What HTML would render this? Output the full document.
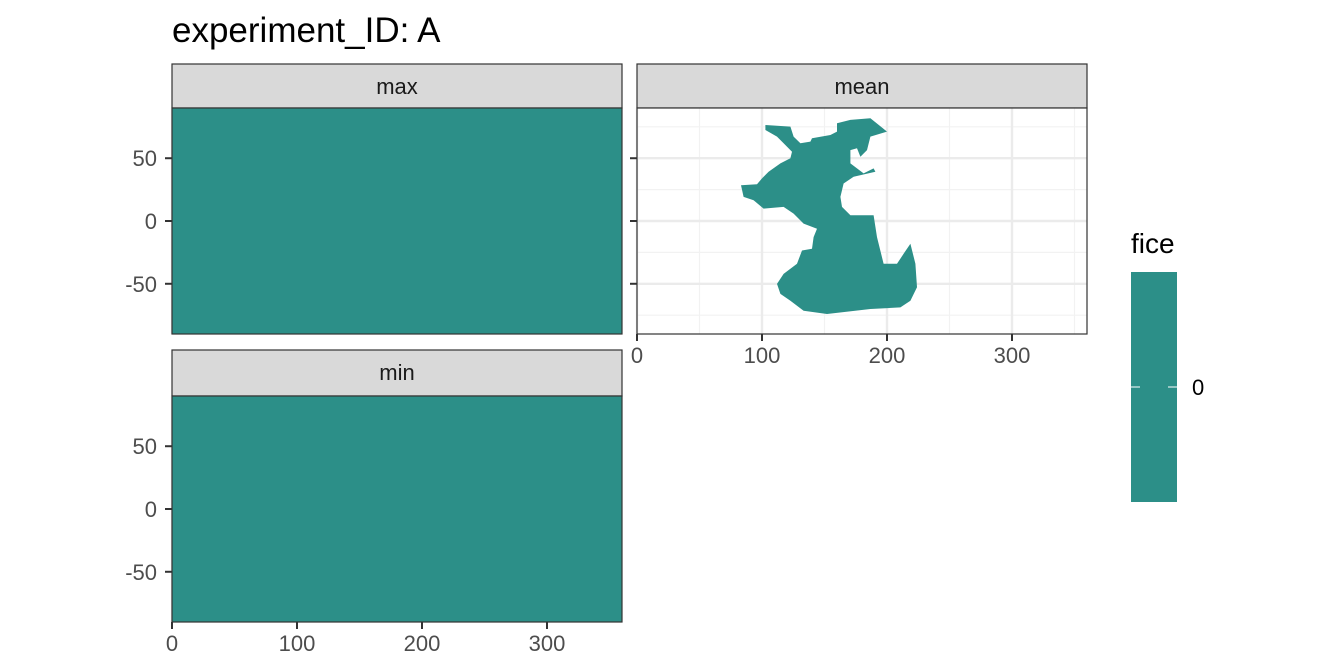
<!DOCTYPE html>
<html><head><meta charset="utf-8"><style>
body{margin:0;background:#fff;}
svg{display:block;font-family:"Liberation Sans",sans-serif;}
</style></head><body>
<svg id="c" width="1344" height="672" viewBox="0 0 1344 672">
<text x="172" y="42" font-size="35" fill="#000">experiment_ID: A</text>
</svg>
<script>
// data
const facets = ["max","mean","min"];
const xTicks = [0,100,200,300];
const yTicks = [50,0,-50];
const xMinor = [50,150,250,350];
const yMinor = [75,25,-25,-75];
const legendTicks = [0];
const oceanLon = [102.7,122.7,125.3,130.7,138.7,140,154.7,160,160,170.7,186.7,200,186.7,184,178.7,176,170.7,170.7,181.3,189.3,190.7,173.3,165.3,162.7,164,170.7,189.3,192,197.3,208,213.3,218.7,222.7,224,218.7,210.7,186.7,152,133.3,122.7,114.7,112,117.3,128,132,140,141.3,144,133.3,125.3,117.3,101.3,93.3,85.3,83.2,96,100,105.3,114.7,122.7,124,117.3,112,102.7];
const oceanLat = [76.5,75.2,67.2,61.9,63.2,65.9,68.5,71.2,77.9,80.5,81.9,71.2,67.2,56.5,51.2,57.9,56.5,45.9,37.9,41.9,39.2,35.2,29.9,19.2,11.2,4.5,4.5,-12.8,-34.1,-34.1,-26.1,-18.1,-34.1,-52.8,-63.5,-68.8,-70.1,-74.1,-71.5,-63.5,-58.1,-50.1,-42.1,-34.1,-23.5,-22.1,-12.8,-6.1,-2.1,5.9,11.2,9.9,16.5,19.2,28.5,29.3,33.9,39.2,45.9,49.9,55.2,61.9,67.2,72.5];

const NS="http://www.w3.org/2000/svg";
const svg=document.getElementById('c');
const FILL="#2c8f88";
function mk(t,a,p){const e=document.createElementNS(NS,t);for(const k in a)e.setAttribute(k,a[k]);(p||svg).appendChild(e);return e;}
const panels={max:{x:172,sy:64,py:108,xAxis:false},mean:{x:637,sy:64,py:108,xAxis:true},min:{x:172,sy:350,py:396,xAxis:true}};
const PW=450,PH=226;
function sx(P,lon){return P.x+lon/360*PW;}
function sy(P,lat){return P.py+(90-lat)/180*PH;}
facets.forEach(f=>{
  const P=panels[f];
  const g=mk('g',{});
  
  
  const strip=mk('rect',{x:P.x,y:P.sy,width:PW,height:P.py-P.sy,fill:"#d9d9d9",stroke:"#333","stroke-width":1.2},g);
  
  
  const st=mk('text',{x:P.x+PW/2,y:P.sy+30,"text-anchor":"middle","font-size":22,fill:"#1a1a1a"},g);
  st.textContent=f;
  
  
  mk('rect',{x:P.x,y:P.py,width:PW,height:PH,fill:"#fff"},g);
  xMinor.forEach(v=>mk('line',{x1:sx(P,v),x2:sx(P,v),y1:P.py,y2:P.py+PH,stroke:"#f2f2f2","stroke-width":1.2},g));
  yMinor.forEach(v=>mk('line',{x1:P.x,x2:P.x+PW,y1:sy(P,v),y2:sy(P,v),stroke:"#f2f2f2","stroke-width":1.2},g));
  xTicks.forEach(v=>mk('line',{x1:sx(P,v),x2:sx(P,v),y1:P.py,y2:P.py+PH,stroke:"#ebebeb","stroke-width":2.4},g));
  yTicks.forEach(v=>mk('line',{x1:P.x,x2:P.x+PW,y1:sy(P,v),y2:sy(P,v),stroke:"#ebebeb","stroke-width":2.4},g));
  if(f==="mean"){
    const pts=oceanLon.map((lon,i)=>sx(P,lon).toFixed(1)+","+sy(P,oceanLat[i]).toFixed(1)).join(" ");
    const poly=mk('polygon',{points:pts,fill:FILL},g);
    
    
  } else {
    const r=mk('rect',{x:P.x,y:P.py,width:PW,height:PH,fill:FILL},g);
    
    
  }
  mk('rect',{x:P.x,y:P.py,width:PW,height:PH,fill:"none",stroke:"#333","stroke-width":1.2},g);
  yTicks.forEach(v=>mk('line',{x1:P.x-7,x2:P.x,y1:sy(P,v),y2:sy(P,v),stroke:"#333","stroke-width":2},g));
  if(f!=="mean"){
    yTicks.forEach(v=>{
      const t=mk('text',{x:P.x-15,y:sy(P,v)+8,"text-anchor":"end","font-size":22,fill:"#4d4d4d"},g);
      t.textContent=v;
      
      
    });
  }
  if(P.xAxis){
    xTicks.forEach(v=>{
      mk('line',{x1:sx(P,v),x2:sx(P,v),y1:P.py+PH,y2:P.py+PH+7,stroke:"#333","stroke-width":2},g);
      const t=mk('text',{x:sx(P,v),y:P.py+PH+29,"text-anchor":"middle","font-size":22,fill:"#4d4d4d"},g);
      t.textContent=v;
      
      
    });
  }
});
// legend
const lg=mk('g',{});


const lt=mk('text',{x:1131,y:253,"font-size":28,fill:"#000"},lg);
lt.textContent="fice";


const bar=mk('rect',{x:1131,y:272,width:46,height:230,fill:FILL},lg);


legendTicks.forEach(v=>{
  const y=387;
  mk('line',{x1:1131,x2:1140,y1:y,y2:y,stroke:"#fff","stroke-width":1},lg);
  mk('line',{x1:1168,x2:1177,y1:y,y2:y,stroke:"#fff","stroke-width":1},lg);
  const t=mk('text',{x:1192,y:y+8,"font-size":22,fill:"#000"},lg);
  t.textContent=v;
  
  
});
</script>
</body></html>
